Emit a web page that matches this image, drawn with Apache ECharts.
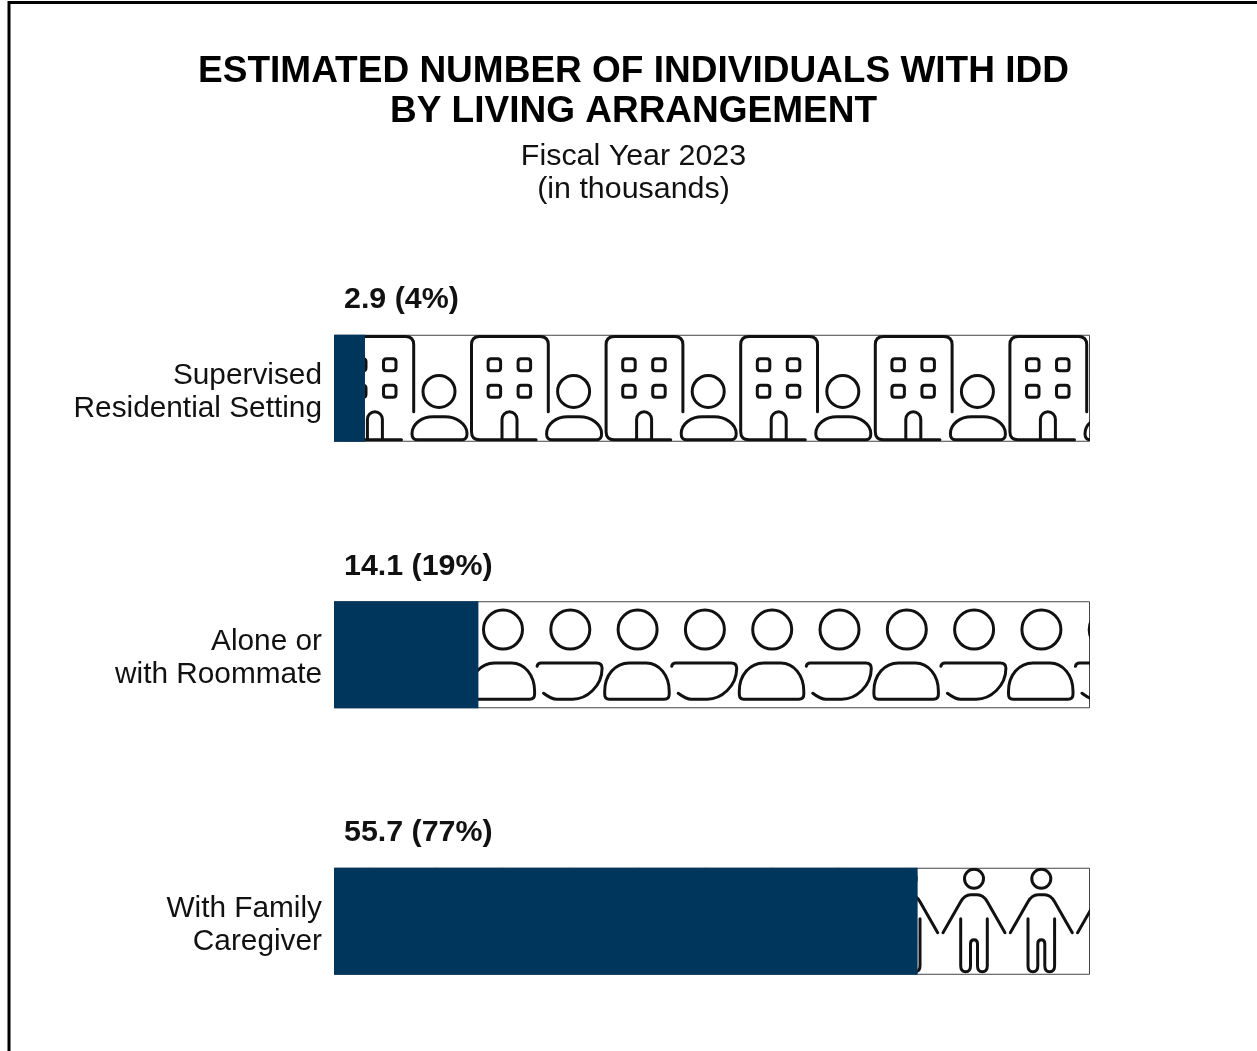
<!DOCTYPE html>
<html>
<head>
<meta charset="utf-8">
<title>Individuals with IDD by living arrangement</title>
<script src="https://cdn.jsdelivr.net/npm/echarts@6/dist/echarts.min.js"></script>
<style>
  html, body { margin: 0; padding: 0; background: #fff; }
  #main { width: 1257px; height: 1051px; }
</style>
</head>
<body>
<div id="main"></div>
<script>
var categories = ['Supervised\nResidential Setting', 'Alone or\nwith Roommate', 'With Family\nCaregiver'];
var thousands = [2.9, 14.1, 55.7];
var percents = [4, 19, 77];
// filled length of each bar, % of the track
var filled = [4.1, 19.1, 77.2];
var track = [100, 100, 100];

// the tiles behind the bars. the two leading moves pin the tile box
var buildingTile = 'M0 0M134.6 107' +
  'M2.9 97V10Q2.9 1.7 11 1.7H71.5Q79.7 1.7 79.7 10V77' +
  'M2.9 97Q2.9 105 11 105H67.5' +
  'M22.5 24H29Q32 24 32 27V33Q32 36 29 36H22.5Q19.5 36 19.5 33V27Q19.5 24 22.5 24Z' +
  'M52.5 24H59Q62 24 62 27V33Q62 36 59 36H52.5Q49.5 36 49.5 33V27Q49.5 24 52.5 24Z' +
  'M22.5 50.5H29Q32 50.5 32 53.5V59.5Q32 62.5 29 62.5H22.5Q19.5 62.5 19.5 59.5V53.5Q19.5 50.5 22.5 50.5Z' +
  'M52.5 50.5H59Q62 50.5 62 53.5V59.5Q62 62.5 59 62.5H52.5Q49.5 62.5 49.5 59.5V53.5Q49.5 50.5 52.5 50.5Z' +
  'M33.4 105V84.5A7.5 7.5 0 0 1 48.4 84.5V105' +
  'M121 56.7A16 16 0 1 1 89 56.7A16 16 0 1 1 121 56.7Z' +
  'M83 105Q78 105 78 99C78 89 88 82 99 82H111C122 82 133 89 133 99Q133 105 128 105Z';

var roommateTile = 'M0 0M134.6 107' +
  'M53.9 28.3A19.5 19.5 0 1 1 14.9 28.3A19.5 19.5 0 1 1 53.9 28.3Z' +
  'M121.2 28.3A19.5 19.5 0 1 1 82.2 28.3A19.5 19.5 0 1 1 121.2 28.3Z' +
  'M6 98Q1.5 98 1.5 93V90C1.5 74 12 61.7 26 61.7H43C56 61.7 66 74 66 90V93Q66 98 61 98Z' +
  'M68.5 65Q69 61.7 72.5 61.7H128Q133.5 61.7 133.5 67C133.5 85 118 98 104 98H88C83 98 79 95 75 92';

var familyTile = 'M0 0M67.3 107' +
  'M43.8 11A9.5 9.5 0 1 1 24.8 11A9.5 9.5 0 1 1 43.8 11Z' +
  'M3.3 65L21 34Q25 27 31 27H37.6Q43.6 27 47.6 34L65.3 65' +
  'M21 51V98Q21 104 26 104Q30.8 104 30.8 98V76Q30.8 72 34.3 72Q37.8 72 37.8 76V98Q37.8 104 42.6 104Q47.6 104 47.6 98V51';

var tiles = [
  { pathData: buildingTile, width: 134.6 },
  { pathData: roommateTile, width: 134.6 },
  { pathData: familyTile, width: 67.3 }
];
var barHeight = 107;

// repeats the row's tile along the whole track, cut off at the track's end
function renderTiles(params, api) {
  var tile = tiles[params.dataIndex];
  var start = api.coord([0, params.dataIndex]);
  var end = api.coord([api.value(0), params.dataIndex]);
  var top = start[1] - barHeight / 2;
  var children = [];
  for (var x = start[0]; x < end[0]; x += tile.width) {
    children.push({
      type: 'path',
      shape: { pathData: tile.pathData, x: x, y: top, width: tile.width, height: barHeight, layout: 'cover' },
      style: { fill: 'none', stroke: '#111', lineWidth: 3, lineCap: 'round' }
    });
  }
  return {
    type: 'group',
    clipPath: { type: 'rect', shape: { x: start[0], y: top, width: end[0] - start[0], height: barHeight } },
    children: children
  };
}

var myChart = echarts.init(document.getElementById('main'), null, { renderer: 'canvas' });

myChart.setOption({
  backgroundColor: '#fff',
  animation: false,
  textStyle: { fontFamily: '"Liberation Sans", Arial, sans-serif' },
  title: {
    text: 'ESTIMATED NUMBER OF INDIVIDUALS WITH IDD\nBY LIVING ARRANGEMENT',
    subtext: 'Fiscal Year 2023\n(in thousands)',
    left: 628.5,
    top: 47,
    textAlign: 'center',
    itemGap: 8,
    textStyle: { color: '#000', fontSize: 37, fontWeight: 'bold', lineHeight: 40 },
    subtextStyle: { color: '#111', fontSize: 30.4, lineHeight: 33 }
  },
  grid: { left: 334, top: 255, width: 756, height: 799.5, outerBoundsMode: 'none' },
  xAxis: { type: 'value', min: 0, max: 100, show: false },
  yAxis: {
    type: 'category',
    inverse: true,
    data: categories,
    axisLine: { show: false },
    axisTick: { show: false },
    axisLabel: {
      margin: 12,
      // spacer line on top, labels sit a little under the bar's centre
      formatter: function (v) {
        return '{gap| }\n' + v.split('\n').map(function (s) { return '{line|' + s + '}'; }).join('\n');
      },
      rich: {
        gap: { fontSize: 1, lineHeight: 8 },
        line: { fontSize: 29.8, lineHeight: 33, color: '#111', align: 'right' }
      }
    }
  },
  series: [
    {
      type: 'bar',
      data: track,
      barWidth: barHeight,
      barGap: '-100%',
      z: 1,
      silent: true,
      itemStyle: { color: '#fff', borderColor: '#444', borderWidth: 1 },
      label: {
        show: true,
        position: [10, -50],
        color: '#111',
        fontSize: 30.4,
        fontWeight: 'bold',
        formatter: function (p) {
          return thousands[p.dataIndex] + ' (' + percents[p.dataIndex] + '%)';
        }
      }
    },
    {
      type: 'custom',
      z: 2,
      silent: true,
      renderItem: renderTiles,
      encode: { x: 0, y: 1 },
      data: track.map(function (v, i) { return [v, categories[i]]; })
    },
    {
      type: 'bar',
      data: filled,
      barWidth: barHeight,
      barGap: '-100%',
      z: 3,
      silent: true,
      itemStyle: { color: '#00365c' }
    }
  ],
  graphic: [{
    type: 'polyline',
    silent: true,
    shape: { points: [[9, 1051], [9, 2.5], [1257, 2.5]] },
    style: { stroke: '#000', lineWidth: 3, fill: null }
  }]
});
</script>
</body>
</html>
